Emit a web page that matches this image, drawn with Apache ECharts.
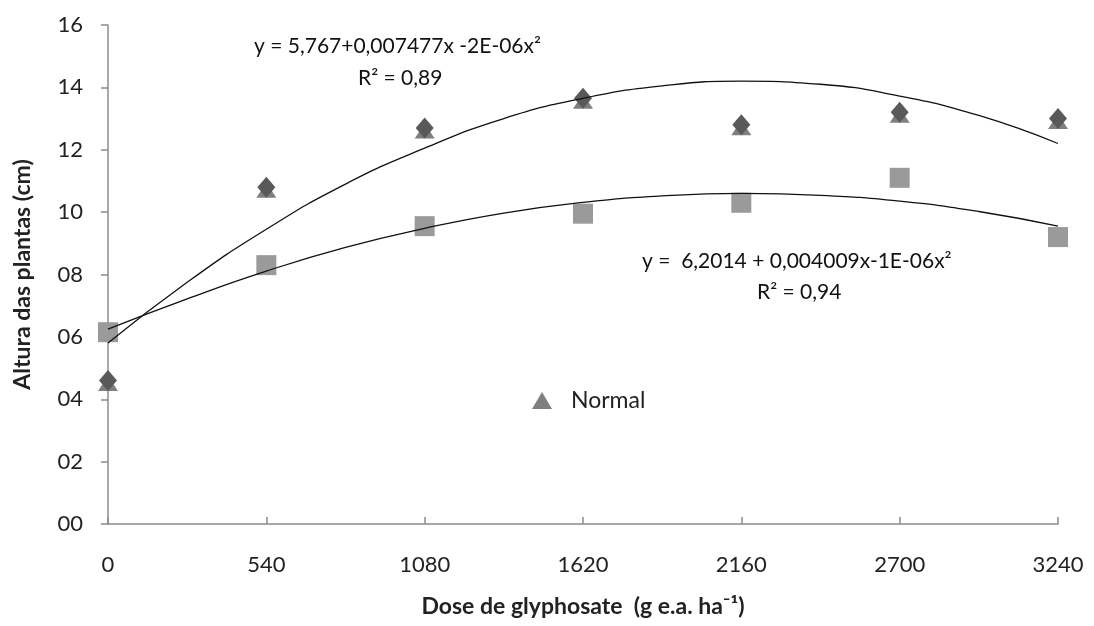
<!DOCTYPE html>
<html>
<head>
<meta charset="utf-8">
<script src="https://cdn.jsdelivr.net/npm/echarts@6/dist/echarts.min.js"></script>
<style>
  html, body { margin: 0; padding: 0; background: #fff; }
  #chart { width: 1094px; height: 626px; }
</style>
</head>
<body>
<div id="chart"></div>
<script>
// doses (g e.a. ha-1)
var doses = [0, 540, 1080, 1620, 2160, 2700, 3240];
// diamond / triangle points
var normal = [4.6, 10.8, 12.7, 13.65, 12.8, 13.2, 13.0];
// square points
var squares = [6.15, 8.3, 9.55, 9.95, 10.3, 11.1, 9.2];
// trend curves
var trendX = [0, 270, 540, 810, 1080, 1350, 1620, 1890, 2160, 2430, 2700, 2970, 3240];
var trendUpper = [5.8, 7.75, 9.45, 10.9, 12.05, 13.0, 13.65, 14.05, 14.2, 14.1, 13.72, 13.1, 12.2];
var trendLower = [6.25, 7.22, 8.11, 8.87, 9.48, 9.97, 10.31, 10.52, 10.6, 10.54, 10.35, 10.02, 9.55];

function pairs(xs, ys) {
  return xs.map(function (x, i) { return [x, ys[i]]; });
}

var font = 'Lato';
var chart = echarts.init(document.getElementById('chart'));
chart.setOption({
  backgroundColor: '#fff',
  animation: false,
  textStyle: { fontFamily: font },
  grid: { left: 108, right: 36, top: 25, bottom: 102 },
  legend: {
    data: [{ name: 'Normal', icon: 'triangle' }],
    left: 527,
    top: 384,
    itemWidth: 20,
    itemHeight: 17,
    textStyle: { fontFamily: font, fontSize: 23, color: '#222', padding: [0, 0, 0, 14] }
  },
  xAxis: {
    type: 'value',
    min: 0,
    max: 3240,
    interval: 540,
    name: 'Dose de glyphosate  (g e.a. ha⁻¹)',
    nameLocation: 'middle',
    nameGap: 71,
    nameTextStyle: { fontFamily: font, fontSize: 23, fontWeight: 'bold', color: '#222' },
    axisLine: { lineStyle: { color: '#8c8c8c', width: 1.5 } },
    axisTick: { show: true, inside: true, length: 7, lineStyle: { color: '#8c8c8c', width: 1.5 } },
    axisLabel: { margin: 30, fontSize: 22, color: '#222', formatter: function (v) { return String(v); } },
    splitLine: { show: false }
  },
  yAxis: {
    type: 'value',
    min: 0,
    max: 16,
    interval: 2,
    name: 'Altura das plantas (cm)',
    nameLocation: 'middle',
    nameRotate: 90,
    nameGap: 74,
    nameTextStyle: { fontFamily: font, fontSize: 23, fontWeight: 'bold', color: '#222' },
    axisLine: { show: true, lineStyle: { color: '#8c8c8c', width: 1.5 } },
    axisTick: { show: true, length: 7, lineStyle: { color: '#8c8c8c', width: 1.5 } },
    axisLabel: {
      margin: 25,
      fontSize: 22,
      color: '#222',
      formatter: function (v) { return (v < 10 ? '0' : '') + v; }
    },
    splitLine: { show: false }
  },
  series: [
    {
      name: 'trend1',
      type: 'line',
      smooth: true,
      showSymbol: false,
      silent: true,
      lineStyle: { color: '#111', width: 1.3 },
      data: pairs(trendX, trendUpper),
      z: 3
    },
    {
      name: 'trend2',
      type: 'line',
      smooth: true,
      showSymbol: false,
      silent: true,
      lineStyle: { color: '#111', width: 1.3 },
      data: pairs(trendX, trendLower),
      z: 3
    },
    {
      name: 'Glifosato',
      type: 'scatter',
      symbol: 'rect',
      symbolSize: 20,
      itemStyle: { color: '#9a9a9a', opacity: 1 },
      data: pairs(doses, squares),
      z: 2
    },
    {
      name: 'Normal',
      type: 'scatter',
      symbol: 'triangle',
      symbolSize: [20, 15],
      symbolOffset: [0, 3],
      itemStyle: { color: '#7f7f7f', opacity: 1 },
      data: pairs(doses, normal),
      z: 2
    },
    {
      name: 'Diamante',
      type: 'scatter',
      symbol: 'diamond',
      symbolSize: [18, 21],
      itemStyle: { color: '#595959', opacity: 1 },
      data: pairs(doses, normal),
      z: 2
    }
  ],
  graphic: [
    {
      type: 'text', left: 254, top: 36,
      style: { text: 'y = 5,767+0,007477x -2E-06x²', font: '21px ' + font, fill: '#111' }
    },
    {
      type: 'text', left: 358, top: 68,
      style: { text: 'R² = 0,89', font: '21px ' + font, fill: '#111' }
    },
    {
      type: 'text', left: 642, top: 251,
      style: { text: 'y =  6,2014 + 0,004009x-1E-06x²', font: '21px ' + font, fill: '#111' }
    },
    {
      type: 'text', left: 757, top: 282,
      style: { text: 'R² = 0,94', font: '21px ' + font, fill: '#111' }
    }
  ]
});
</script>
</body>
</html>
